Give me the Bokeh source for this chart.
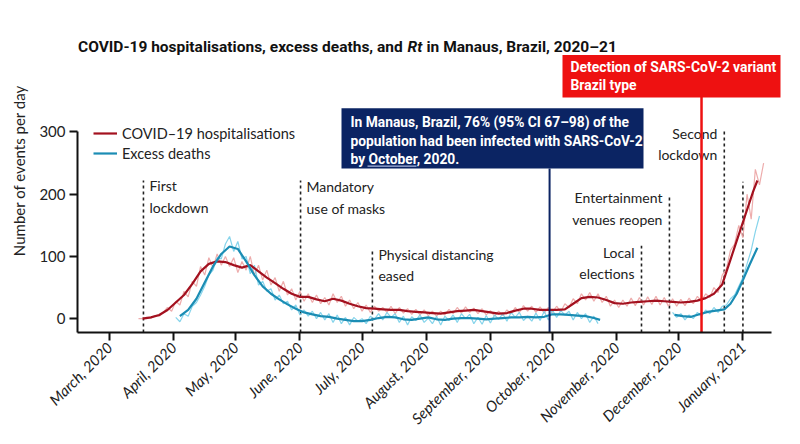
import math
from bokeh.plotting import figure
from bokeh.models import FixedTicker, Range1d, Legend, LegendItem, Label
from bokeh.embed import file_html
from bokeh.resources import INLINE
from bokeh.core.properties import value

# ---------------- data (x = days since 1 March 2020) ----------------
month_days = [0, 31, 61, 92, 122, 153, 184, 214, 245, 275, 306]
month_labels = ["March, 2020", "April, 2020", "May, 2020", "June, 2020", "July, 2020",
                "August, 2020", "September, 2020", "October, 2020", "November, 2020",
                "December, 2020", "January, 2021"]
y_ticks = [0, 100, 200, 300]

hosp_smooth_days = [16, 20, 24, 28, 32, 36, 40, 44, 48, 52, 56, 60, 64, 68, 72, 76, 80, 84, 88, 92,
                    96, 100, 104, 108, 112, 116, 120, 124, 128, 132, 136, 140, 144, 148, 152, 156,
                    160, 164, 168, 172, 176, 180, 184, 188, 192, 196, 200, 204, 208, 212, 216, 220,
                    224, 228, 232, 236, 240, 244, 248, 252, 256, 260, 264, 268, 272, 276, 280, 284,
                    288, 292, 296, 300, 304, 308, 311, 313]
hosp_smooth = [0, 2, 6, 14, 26, 38, 56, 76, 88, 92, 91, 86, 82, 86, 76, 66, 57, 48, 40, 35,
               35, 31, 28, 32, 29, 24, 20, 17, 16, 15, 14, 14, 12, 11, 10, 9,
               8, 10, 12, 13, 14, 12, 10, 8, 9, 13, 16, 16, 14, 14, 14, 15,
               24, 33, 35, 34, 30, 25, 24, 26, 27, 28, 29, 28, 27, 26, 27, 29,
               33, 40, 55, 95, 135, 175, 205, 222]

hosp_raw_days = list(range(14, 317, 2))
hosp_raw = [0, 0, 2, 1, 5, 4, 10, 18, 12, 28, 22, 44, 35, 60, 52, 84, 70, 98, 82, 104,
            86, 100, 84, 98, 74, 92, 78, 100, 70, 86, 62, 78, 54, 66, 44, 60, 38, 48, 30, 44,
            28, 40, 26, 38, 24, 34, 22, 40, 26, 36, 20, 30, 16, 26, 12, 22, 10, 20, 12, 18,
            10, 20, 8, 18, 9, 16, 7, 15, 6, 14, 5, 12, 4, 12, 6, 15, 8, 18, 9, 19,
            10, 17, 8, 16, 6, 13, 4, 12, 5, 14, 8, 18, 10, 21, 12, 20, 10, 19, 9, 18,
            10, 20, 11, 24, 18, 32, 24, 40, 30, 42, 28, 40, 26, 36, 20, 30, 18, 30, 20, 33,
            21, 34, 22, 35, 23, 36, 22, 34, 20, 32, 20, 31, 21, 33, 24, 36, 28, 40, 34, 50,
            42, 70, 80, 110, 120, 150, 130, 200, 160, 240, 215, 250]

exc_smooth_days_a = [34, 38, 42, 46, 50, 54, 58, 62, 66, 70, 74, 78, 82, 86, 90, 94, 98, 102, 106,
                     110, 114, 118, 122, 126, 130, 134, 138, 142, 146, 150, 154, 158, 162, 166,
                     170, 174, 178, 182, 186, 190, 194, 198, 202, 206, 210, 214, 218, 222, 226,
                     230, 234, 237]
exc_smooth_a = [4, 14, 32, 58, 84, 104, 116, 112, 92, 70, 52, 40, 31, 23, 16, 10, 7, 4, 3,
                0, -2, -4, -4, -2, 1, 3, 2, -1, -2, 0, 2, -1, -2, 0,
                1, 1, 0, -1, 0, 1, 2, 2, 3, 2, 3, 7, 7, 6, 5,
                4, 1, -2]
exc_smooth_days_b = [273, 277, 281, 285, 289, 293, 297, 300, 303, 306, 309, 313]
exc_smooth_b = [6, 4, 3, 7, 11, 13, 15, 24, 40, 62, 85, 114]

exc_raw_days_a = list(range(32, 237, 2))
exc_raw_a = [2, -5, 8, 4, 20, 26, 38, 52, 70, 78, 98, 96, 120, 132, 108, 124, 96, 100, 72, 86,
             54, 60, 44, 48, 30, 38, 24, 28, 14, 22, 6, 14, 4, 12, 0, 10, -2, 8, -6, 6,
             -8, 2, -10, 2, -4, 0, -8, 4, -1, 8, -2, 10, 2, 8, -6, 4, -10, 3, -3, 6,
             -6, 1, -8, 4, -10, 4, -3, 6, -6, 8, 0, 7, -8, 2, -9, 5, -7, 6, -1, 8,
             -4, 10, 2, 10, -3, 4, -4, 9, -3, 12, -2, 14, 2, 13, 6, 12, -2, 10, 0, 8,
             -6, 4, -8]
exc_raw_days_b = list(range(272, 315, 2))
exc_raw_b = [10, 2, 8, -2, 6, 0, 10, 4, 14, 8, 18, 10, 20, 22, 32, 38, 52, 66, 88, 110, 140, 165]

ev_days = [16.4, 92.3, 127, 257, 270.5, 297, 306]
ev_tops = [222, 222, 110, 117, 198, 305, 220]
ev_labels = ["First\nlockdown", "Mandatory\nuse of masks", "Physical distancing\neased",
             "Local\nelections", "Entertainment\nvenues reopen", "Second\nlockdown", ""]

seroprev_day = 212.6      # navy line (October 2020)
variant_day = 286.0       # red line (variant detection)

assert len(hosp_raw) == len(hosp_raw_days)
assert len(hosp_smooth) == len(hosp_smooth_days)
assert len(exc_raw_a) == len(exc_raw_days_a)
assert len(exc_raw_b) == len(exc_raw_days_b)
assert len(exc_smooth_a) == len(exc_smooth_days_a)
assert len(exc_smooth_b) == len(exc_smooth_days_b)

# ---------------- layout helpers (image px -> data) ----------------
PX_DAY = 2.07
PX_UNIT = 0.63
def X(px):
    return (px - 109) / PX_DAY
def Y(py):
    return (322 - py) / PX_UNIT

W, H = 792, 436
BL, BR, BT, BB = 77, 2, 8, 100
x0 = X(77)
x1 = x0 + (W - BL - BR) / PX_DAY
y0 = Y(336)
y1 = y0 + (H - BT - BB) / PX_UNIT

FONT = "Lato"
BOLD = "Roboto"
RED_D = "#a3111f"
RED_L = "#eba3a3"
TEAL = "#1b8db4"
TEAL_L = "#79cfe9"
NAVY = "#0b2463"
RED_BOX = "#ee1111"

p = figure(width=W, height=H, output_backend="svg", toolbar_location=None,
           x_range=Range1d(x0, x1), y_range=Range1d(y0, y1),
           min_border_left=BL, min_border_right=BR, min_border_top=BT, min_border_bottom=BB)
p.outline_line_color = None
p.grid.visible = False
p.background_fill_color = "white"

# axes
p.xaxis.ticker = FixedTicker(ticks=month_days)
p.xaxis.major_label_overrides = {d: l for d, l in zip(month_days, month_labels)}
p.xaxis.major_label_orientation = math.pi / 4
p.xaxis.bounds = (x0, X(771))
p.yaxis.ticker = FixedTicker(ticks=y_ticks)
p.yaxis.bounds = (y0, 300)
for ax in (p.xaxis, p.yaxis):
    ax.axis_line_width = 2
    ax.axis_line_color = "#111111"
    ax.major_tick_out = 8
    ax.major_tick_in = 0
    ax.major_tick_line_width = 2
    ax.major_tick_line_color = "#111111"
    ax.minor_tick_out = 0
    ax.minor_tick_in = 0
    ax.major_label_text_font = FONT
    ax.major_label_text_color = "#222222"
p.xaxis.major_label_standoff = 4
p.yaxis.major_label_standoff = 4
p.xaxis.major_label_text_font_size = "15px"
p.xaxis.major_label_text_font_style = "italic"
p.yaxis.major_label_text_font_size = "15px"
p.yaxis.axis_label = "Number of events per day"
p.yaxis.axis_label_text_font = FONT
p.yaxis.axis_label_text_font_size = "15px"
p.yaxis.axis_label_text_font_style = "normal"
p.yaxis.axis_label_text_color = "#222222"
p.yaxis.axis_label_standoff = 8

# event lines
p.segment(x0=ev_days, x1=ev_days, y0=[y0] * len(ev_days), y1=ev_tops,
          line_color="#222222", line_width=1.6, line_dash="3 3")
left_idx = [0, 1, 2]
right_idx = [3, 4, 5]
lab_tops = [Y(179), Y(180), Y(248), Y(246), Y(191), Y(126)]
p.text(x=[ev_days[i] for i in left_idx], y=[lab_tops[i] for i in left_idx],
       text=[ev_labels[i] for i in left_idx], x_offset=6,
       text_font=value(FONT), text_font_size="14px", text_color="#222222",
       text_align="left", text_baseline="top", text_line_height=1.25)
p.text(x=[ev_days[i] for i in right_idx], y=[lab_tops[i] for i in right_idx],
       text=[ev_labels[i] for i in right_idx], x_offset=-7,
       text_font=value(FONT), text_font_size="14px", text_color="#222222",
       text_align="right", text_baseline="top", text_line_height=1.25)

# raw series
p.line(hosp_raw_days, hosp_raw, line_color=RED_L, line_width=1.2, line_alpha=0.9)
p.line(exc_raw_days_a, exc_raw_a, line_color=TEAL_L, line_width=1.2, line_alpha=0.9)
p.line(exc_raw_days_b, exc_raw_b, line_color=TEAL_L, line_width=1.2, line_alpha=0.9)
# smoothed
r_h = p.line(hosp_smooth_days, hosp_smooth, line_color=RED_D, line_width=2.2)
r_e = p.line(exc_smooth_days_a, exc_smooth_a, line_color=TEAL, line_width=2.2)
p.line(exc_smooth_days_b, exc_smooth_b, line_color=TEAL, line_width=2.2)

# annotation lines and boxes
p.segment(x0=[seroprev_day], x1=[seroprev_day], y0=[y0], y1=[Y(170)], line_color=NAVY, line_width=2)
p.segment(x0=[variant_day], x1=[variant_day], y0=[y0], y1=[Y(97)], line_color=RED_BOX, line_width=2.5)
p.quad(left=[X(341)], right=[X(643)], top=[Y(109)], bottom=[Y(170)],
       fill_color=NAVY, line_color=None)
p.quad(left=[X(562)], right=[X(780)], top=[Y(55)], bottom=[Y(98)],
       fill_color=RED_BOX, line_color=None)
# underline under "October,"
p.segment(x0=[X(367)], x1=[X(416)], y0=[Y(167.5)], y1=[Y(167.5)], line_color="#aab6dc", line_width=1.3)

box_lines = ["In Manaus, Brazil, 76% (95% CI 67\u201398) of the",
             "population had been infected with SARS-CoV-2",
             "by October, 2020."]
for txt, cy in zip(box_lines, [123, 142, 160]):
    p.add_layout(Label(x=X(350), y=Y(cy), text=txt, text_font=BOLD, text_font_style="bold",
                       text_font_size="13.8px", text_color="white", text_baseline="middle"))
for txt, cy in zip(["Detection of SARS-CoV-2 variant", "Brazil type"], [67, 85]):
    p.add_layout(Label(x=X(570), y=Y(cy), text=txt, text_font=BOLD, text_font_style="bold",
                       text_font_size="13.9px", text_color="white", text_baseline="middle"))

# title (three pieces so that "Rt" is italic)
title_parts = ["COVID-19 hospitalisations, excess deaths, and", "Rt", "in Manaus, Brazil, 2020\u201321"]
title_px = [77.5, 407, 426]
title_styles = ["bold", "bold italic", "bold"]
for txt, px, st in zip(title_parts, title_px, title_styles):
    p.add_layout(Label(x=X(px), y=Y(47), text=txt, text_font=BOLD, text_font_style=st,
                       text_font_size="15.5px", text_color="#111111", text_baseline="middle"))

# legend
legend = Legend(items=[LegendItem(label="COVID\u201319 hospitalisations", renderers=[r_h]),
                       LegendItem(label="Excess deaths", renderers=[r_e])],
                location=(16, 169), padding=0, spacing=0, margin=0,
                glyph_width=24, glyph_height=20, label_height=20, label_standoff=5,
                label_text_font=FONT, label_text_font_size="14.5px", label_text_color="#222222",
                border_line_color=None, background_fill_alpha=0)
p.add_layout(legend)

open("out.html", "w").write(file_html(p, INLINE))
